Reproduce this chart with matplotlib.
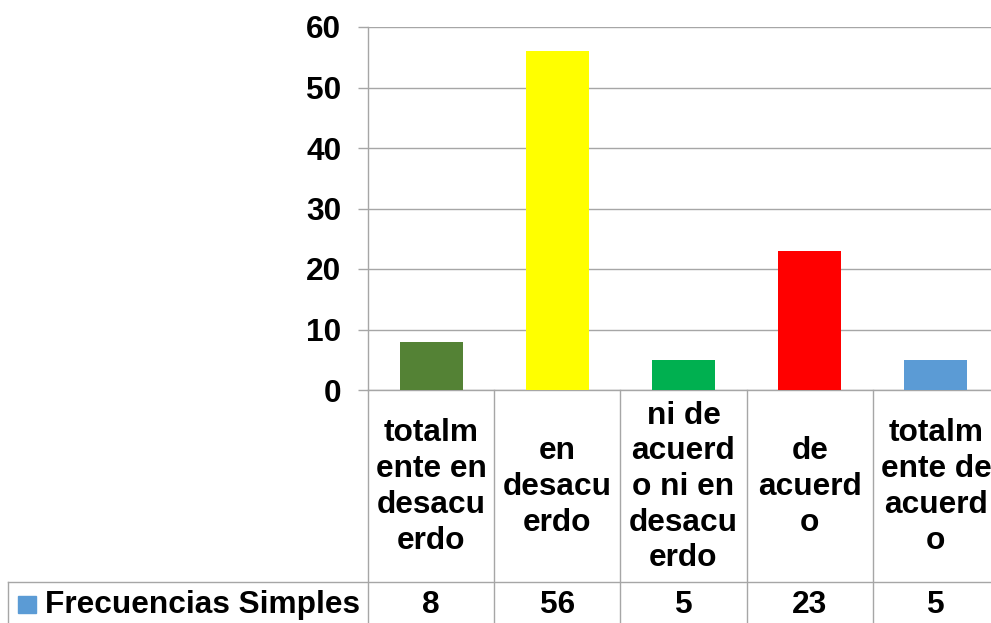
import matplotlib
matplotlib.use("Agg")
import matplotlib.pyplot as plt
from matplotlib.transforms import blended_transform_factory
from matplotlib.patches import Rectangle
from matplotlib.lines import Line2D

categories = ["totalm\nente en\ndesacu\nerdo", "en\ndesacu\nerdo", "ni de\nacuerd\no ni en\ndesacu\nerdo",
              "de\nacuerd\no", "totalm\nente de\nacuerd\no"]
values = [8, 56, 5, 23, 5]
colors = ["#548235", "#FFFF00", "#00B050", "#FF0000", "#5B9BD5"]
series_name = "Frecuencias Simples"
yticks = [0, 10, 20, 30, 40, 50, 60]

plt.rcParams['font.family'] = ['Liberation Sans', 'DejaVu Sans']
W, H = 991, 623
GRID = "#A6A6A6"
FS = 22.8

def fy(py):
    return 1 - py / H

fig = plt.figure(figsize=(W / 100, H / 100), dpi=100)
ax = fig.add_axes([368 / W, fy(390), (999 - 368) / W, (390 - 27) / H])
x = list(range(len(values)))
ax.bar(x, values, width=0.5, color=colors, zorder=3)
ax.set_xlim(-0.5, len(values) - 0.5)
ax.set_ylim(0, 60)
ax.set_yticks(yticks)
ax.set_yticklabels([str(t) for t in yticks], fontsize=FS, fontweight='bold')
ax.set_xticks([])
ax.grid(axis='y', color=GRID, linewidth=1, zorder=0)
for s in ['top', 'right']:
    ax.spines[s].set_visible(False)
for s in ['left', 'bottom']:
    ax.spines[s].set_color(GRID)
    ax.spines[s].set_linewidth(1)
ax.tick_params(axis='y', length=7.2, width=1, color=GRID, pad=12)

trans = blended_transform_factory(ax.transData, fig.transFigure)
# vertical table lines
for i in range(len(values) + 1):
    fig.add_artist(Line2D([i - 0.5, i - 0.5], [fy(390), fy(623)], transform=trans,
                          color=GRID, linewidth=1))
# horizontal line above values row
fig.add_artist(Line2D([8 / W, 1], [fy(582), fy(582)], transform=fig.transFigure,
                      color=GRID, linewidth=1))
fig.add_artist(Line2D([8 / W, 8 / W], [fy(582), fy(623)], transform=fig.transFigure,
                      color=GRID, linewidth=1))

for i, (c, v) in enumerate(zip(categories, values)):
    fig.text(i, fy(487), c, transform=trans, ha='center', va='center',
             fontsize=FS, fontweight='bold', linespacing=1.25)
    fig.text(i, fy(605), str(v), transform=trans, ha='center', va='center',
             fontsize=FS, fontweight='bold')

fig.add_artist(Rectangle((18 / W, fy(613)), 18 / W, 17 / H, transform=fig.transFigure,
                         color=colors[4]))
fig.text(45 / W, fy(605), series_name, ha='left', va='center', fontsize=FS, fontweight='bold')

fig.savefig("out.png", dpi=100)
